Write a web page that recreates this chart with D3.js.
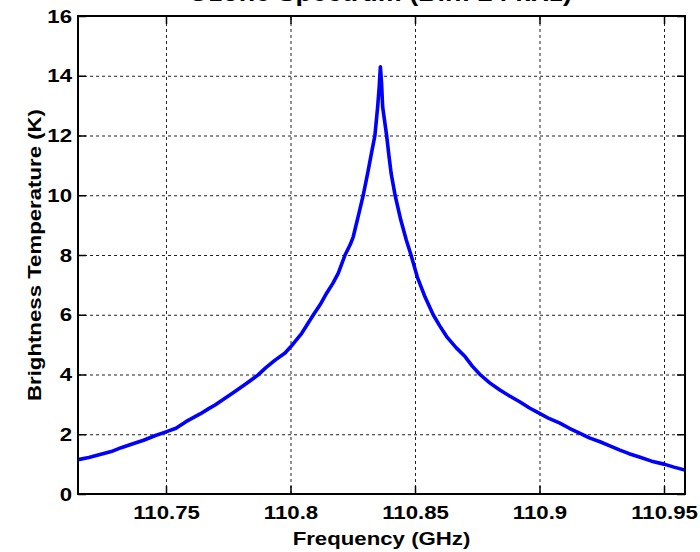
<!DOCTYPE html>
<html>
<head>
<meta charset="utf-8">
<script src="https://cdn.jsdelivr.net/npm/d3@7"></script>
<style>
  body { margin: 0; background: #fff; }
  text { font-family: "Liberation Sans", Arial, sans-serif; font-weight: bold; fill: #000; }
</style>
</head>
<body>
<div id="svg"></div>
<script>
// values
const freqGHz = [
  110.7147, 110.7190, 110.7235, 110.7280, 110.7320, 110.7367, 110.7410, 110.7455,
  110.7500, 110.7540, 110.7580, 110.7637, 110.7670, 110.7697, 110.7740, 110.7777,
  110.7820, 110.7869, 110.7900, 110.7938, 110.7978, 110.8000, 110.8045, 110.8092,
  110.8120, 110.8145, 110.8170, 110.8192, 110.8219, 110.8240, 110.8252, 110.8275,
  110.8292, 110.8310, 110.8325, 110.8339, 110.8350, 110.8356, 110.8361,
  110.8366, 110.8370, 110.8386, 110.8395, 110.8404, 110.8420, 110.8443, 110.8465,
  110.8484, 110.8509, 110.8540, 110.8573, 110.8600, 110.8627, 110.8665, 110.8701,
  110.8730, 110.8761, 110.8800, 110.8841, 110.8880, 110.8922, 110.8960, 110.9000,
  110.9040, 110.9082, 110.9120, 110.9163, 110.9200, 110.9243, 110.9280, 110.9323,
  110.9360, 110.9404, 110.9450, 110.9500, 110.9540, 110.9584
]
const tempK = [
  1.15, 1.22, 1.32, 1.42, 1.55, 1.68, 1.80, 1.95,
  2.08, 2.20, 2.42, 2.68, 2.85, 2.98, 3.22, 3.43,
  3.68, 3.98, 4.22, 4.48, 4.72, 4.92, 5.38, 6.00,
  6.35, 6.72, 7.05, 7.39, 8.00, 8.35, 8.61, 9.40,
  10.00, 10.74, 11.40, 12.00, 12.96, 13.60, 14.30,
  13.70, 12.96, 12.00, 11.35, 10.74, 10.00, 9.17, 8.50,
  8.00, 7.27, 6.60, 6.00, 5.62, 5.27, 4.90, 4.60,
  4.28, 4.00, 3.72, 3.48, 3.28, 3.08, 2.88, 2.70,
  2.52, 2.37, 2.20, 2.03, 1.88, 1.75, 1.62, 1.47,
  1.35, 1.23, 1.10, 1.00, 0.90, 0.80
]
const xTicks = [110.75, 110.8, 110.85, 110.9, 110.95]
const xTickLabels = ['110.75', '110.8', '110.85', '110.9', '110.95']
const yTicks = [0, 2, 4, 6, 8, 10, 12, 14, 16]
const titleText = 'Ozone Spectrum (Bin: 24 kHz)'
const xLabel = 'Frequency (GHz)'
const yLabel = 'Brightness Temperature (K)'

const margin = {top: 16, right: 15, bottom: 58, left: 78}
const width = 700 - margin.left - margin.right
const height = 552 - margin.top - margin.bottom
const stretch = 1.17 // the original font runs wider than Liberation Sans

const xscale = d3.scaleLinear()
  .domain([110.71466, 110.95843])
  .range([0, width])

const yscale = d3.scaleLinear()
  .domain([0, 16])
  .range([height, 0])

const svg = d3
  .select('#svg')
  .append('svg')
    .attr('width', 700)
    .attr('height', 552)
  .append('g')
    .attr('transform', `translate(${margin.left},${margin.top})`)

// dashed grid
svg.append('g')
  .attr('transform', `translate(0,${height})`)
  .call(d3.axisBottom(xscale).tickValues(xTicks).tickSize(-height).tickFormat(''))
  .call(g => g.select('.domain').remove())
  .selectAll('line')
    .attr('stroke', '#222')
    .attr('stroke-dasharray', '3,3')

svg.append('g')
  .call(d3.axisLeft(yscale).tickValues(yTicks).tickSize(-width).tickFormat(''))
  .call(g => g.select('.domain').remove())
  .selectAll('line')
    .attr('stroke', '#222')
    .attr('stroke-dasharray', '3,3')

// spectrum
svg.append('clipPath')
  .attr('id', 'clip')
  .append('rect')
    .attr('width', width)
    .attr('height', height)

const line = d3.line()
  .x((d, i) => xscale(freqGHz[i]))
  .y(d => yscale(d))

svg.append('path')
  .datum(tempK)
  .attr('clip-path', 'url(#clip)')
  .attr('fill', 'none')
  .attr('stroke', '#0000ff')
  .attr('stroke-width', 3.6)
  .attr('stroke-linejoin', 'round')
  .attr('d', line)

// axes, ticks pointing in on all four sides
const bottomAxis = svg.append('g')
  .attr('transform', `translate(0,${height})`)
  .call(d3.axisBottom(xscale).tickValues(xTicks)
    .tickFormat((d, i) => xTickLabels[i])
    .tickSizeInner(-8).tickSizeOuter(0).tickPadding(12))

const leftAxis = svg.append('g')
  .call(d3.axisLeft(yscale).tickValues(yTicks)
    .tickSizeInner(-8).tickSizeOuter(0).tickPadding(6))

svg.append('g')
  .call(d3.axisTop(xscale).tickValues(xTicks).tickFormat('').tickSizeInner(-8).tickSizeOuter(0))

svg.append('g')
  .attr('transform', `translate(${width},0)`)
  .call(d3.axisRight(yscale).tickValues(yTicks).tickFormat('').tickSizeInner(-8).tickSizeOuter(0))

svg.selectAll('.domain').remove()
svg.selectAll('.tick line').filter(function () { return !this.getAttribute('stroke-dasharray') })
  .attr('stroke', '#000')
  .attr('stroke-width', 1.5)

bottomAxis.selectAll('text')
  .attr('font-size', 19)
  .attr('transform', `scale(${stretch},1)`)

leftAxis.selectAll('text')
  .attr('font-size', 19)
  .attr('x', -6 / stretch)
  .attr('transform', `scale(${stretch},1)`)

svg.append('rect')
  .attr('width', width)
  .attr('height', height)
  .attr('fill', 'none')
  .attr('stroke', '#000')
  .attr('stroke-width', 2)

// labels
svg.append('text')
  .attr('transform', `translate(${width / 2},${height + 51}) scale(${stretch},1)`)
  .attr('text-anchor', 'middle')
  .attr('font-size', 19)
  .text(xLabel)

svg.append('text')
  .attr('transform', `translate(${41 - margin.left},${height / 2}) rotate(-90) scale(${stretch},1)`)
  .attr('text-anchor', 'middle')
  .attr('font-size', 19)
  .text(yLabel)

svg.append('text')
  .attr('transform', `translate(${380 - margin.left},${1 - margin.top}) scale(${stretch},1)`)
  .attr('text-anchor', 'middle')
  .attr('font-size', 23)
  .text(titleText)
</script>
</body>
</html>
